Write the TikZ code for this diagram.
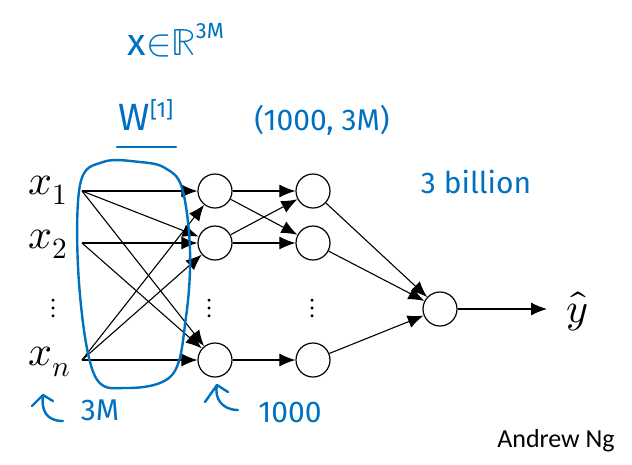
\documentclass[tikz,border=0pt]{standalone}
\usepackage{fontspec}
\usepackage{unicode-math}
\setmathfont{Latin Modern Math}
\setsansfont{Fira Sans}
\newfontfamily\ngfont{Carlito}
\usetikzlibrary{arrows.meta}
\definecolor{ink}{RGB}{0,112,192}
\tikzset{
  neuron/.style={circle,draw=black,line width=1.2pt,minimum size=34pt,inner sep=0pt},
  edge/.style={line width=1.1pt,-{Latex[length=16pt,width=13pt]}},
  inlabel/.style={font=\fontsize{42}{46}\selectfont,inner sep=0pt},
  hand/.style={text=ink,font=\sffamily\fontsize{28}{30}\selectfont,inner sep=0pt},
  handline/.style={draw=ink,line width=2.4pt,line cap=round,line join=round},
  vdots/.style={font=\fontsize{28}{30}\selectfont,inner sep=0pt}
}
\begin{document}
\begin{tikzpicture}[x=1pt,y=-1pt]
\useasboundingbox (0,0) rectangle (632,464);
% input coordinates and labels
\coordinate (i1) at (82,191);
\coordinate (i2) at (82,243);
\coordinate (in) at (82,360);
\node[inlabel] (x1) at (48,190) {$x_1$};
\node[inlabel] (x2) at (48,244) {$x_2$};
\node[inlabel] (xn) at (50,362) {$x_n$};
\node[vdots] (d0) at (54,308) {$\vdots$};
% hidden layers
\node[neuron] (a1) at (215,191) {};
\node[neuron] (a2) at (215,243) {};
\node[neuron] (an) at (215,360) {};
\node[vdots] (d1) at (210,308) {$\vdots$};
\node[neuron] (b1) at (313,191) {};
\node[neuron] (b2) at (313,243) {};
\node[neuron] (bn) at (313,360) {};
\node[vdots] (d2) at (313,308) {$\vdots$};
\node[neuron] (o) at (440,309) {};
\coordinate (yend) at (547,309);
\node[inlabel] (yhat) at (577,311) {$\hat{y}$};
% edges
\draw[edge] (i1) -- (a1);
\draw[edge] (i1) -- (a2);
\draw[edge] (i1) -- (an);
\draw[edge] (i2) -- (a2);
\draw[edge] (i2) -- (an);
\draw[edge] (in) -- (a1);
\draw[edge] (in) -- (a2);
\draw[edge] (in) -- (an);
\draw[edge] (a1) -- (b1);
\draw[edge] (a1) -- (b2);
\draw[edge] (a2) -- (b1);
\draw[edge] (a2) -- (b2);
\draw[edge] (an) -- (bn);
\draw[edge] (b1) -- (o);
\draw[edge] (b2) -- (o);
\draw[edge] (bn) -- (o);
\draw[edge] (o) -- (yend);
% credit
\node[font=\ngfont\fontsize{26}{28}\selectfont,inner sep=0pt] (ng) at (556,441) {Andrew Ng};
% handwritten annotations
\node[hand,font=\sffamily\fontsize{38}{40}\selectfont] (xr) at (176,40) {x$\in$$\mathbb{R}$\raisebox{17pt}{\fontsize{22}{24}\selectfont 3M}};
\node[hand,font=\sffamily\fontsize{38}{40}\selectfont] (w1) at (146,115) {W\raisebox{13pt}{\fontsize{22}{24}\selectfont [1]}};
\coordinate (ul1) at (117,147);
\coordinate (ul2) at (176,147);
\draw[handline] (ul1) -- (ul2);
\node[hand,font=\sffamily\fontsize{30}{32}\selectfont] (dims) at (322,120) {(1000, 3M)};
\node[hand,font=\sffamily\fontsize{30}{32}\selectfont] (bil) at (476,182) {3 billion};
\node[hand,font=\sffamily\fontsize{30}{32}\selectfont] (n3m) at (100,410) {3M};
\node[hand,font=\sffamily\fontsize{30}{32}\selectfont] (n1000) at (290,412) {1000};
% loop around the first weight layer
\draw[handline] plot[smooth cycle,tension=0.6] coordinates {
  (103,162) (140,162) (165,168) (182,188) (190,250) (186,317) (172,375)
  (125,388) (94,374) (79,283) (80,185)};
% hooks
\coordinate (h1tip) at (43,395);
\draw[handline] (32,406) -- (h1tip) -- (53,401);
\draw[handline] (h1tip) .. controls (41,410) and (46,421) .. (63,421);
\coordinate (h2tip) at (217,385);
\draw[handline] (205,402) -- (h2tip) -- (228,392);
\draw[handline] (h2tip) .. controls (214,398) and (222,410) .. (238,410);
\end{tikzpicture}
\end{document}
